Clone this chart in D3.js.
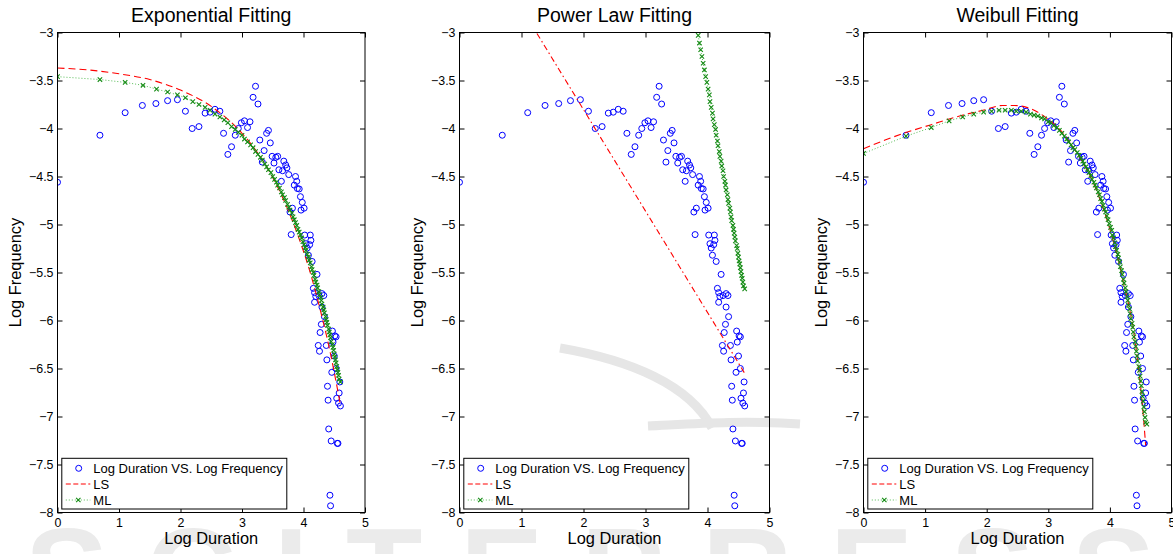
<!DOCTYPE html>
<meta charset="utf-8">
<script src="https://d3js.org/d3.v7.min.js"></script>
<style>
body{margin:0;background:#fff}
svg{font-family:"Liberation Sans",Arial,Helvetica,sans-serif}
</style>
<div id="chart"></div>
<script>

var panelTitles = ["Exponential Fitting","Power Law Fitting","Weibull Fitting"]
var legendLabels = ["Log Duration VS. Log Frequency","LS","ML"]
var xTicks = [0,1,2,3,4,5]
var xTickLabels = ["0","1","2","3","4","5"]
var yTicks = [-8,-7.5,-7,-6.5,-6,-5.5,-5,-4.5,-4,-3.5,-3]
var yTickLabels = ["−8","−7.5","−7","−6.5","−6","−5.5","−5","−4.5","−4","−3.5","−3"]

// observed points (same in all three panels)
var logDuration = [0,0.69,1.10,1.38,1.60,1.79,1.95,2.08,2.19,2.30,
	2.40,2.48,2.56,2.64,2.70,2.77,2.83,2.89,2.94,2.99,
	3.04,3.09,3.13,3.18,3.22,3.26,3.29,3.33,3.36,3.40,
	3.43,3.46,3.49,3.52,3.55,3.58,3.60,3.64,3.66,3.68,
	3.71,3.73,3.76,3.78,3.82,3.85,3.87,3.89,3.90,3.93,
	3.95,3.96,3.98,4.01,
	3.80,4.02,4.04,4.06,4.08,4.10,4.11,4.12,4.14,4.16,
	4.18,4.18,4.20,4.22,4.24,4.25,4.26,4.27,4.29,4.30,
	4.30,4.33,4.34,4.37,4.38,4.39,4.40,4.41,4.43,4.44,
	4.45,4.46,4.47,4.48,4.50,4.51,4.53,4.53,4.54,4.55,
	4.56,4.57,4.58,4.59,4.60]
var logFrequency = [-4.56,-4.07,-3.835,-3.76,-3.74,-3.71,-3.70,-3.82,-4.00,-3.98,
	-3.84,-3.83,-3.80,-3.82,-4.05,-4.27,-4.19,-4.07,-4.00,-3.94,
	-3.92,-3.99,-3.93,-3.675,-3.56,-3.745,-4.12,-4.35,-4.23,-4.05,
	-4.02,-4.15,-4.29,-4.36,-4.30,-4.29,-4.43,-4.55,-4.44,-4.34,
	-4.38,-4.41,-4.48,-4.87,-4.83,-4.59,-4.50,-4.55,-4.625,-4.63,
	-4.71,-4.85,-4.77,-4.83,
	-5.105,-5.11,-5.20,-5.245,-5.32,-5.21,-5.11,-5.165,-5.385,-5.665,
	-5.71,-5.81,-5.75,-5.52,-6.26,-5.74,-6.32,-6.125,-6.04,-5.72,
	-5.86,-5.74,-5.96,-6.26,-6.41,-6.685,-6.83,-7.13,-7.82,-7.93,
	-7.255,-6.54,-6.11,-6.225,-6.37,-6.16,-6.17,-6.50,-6.81,-7.28,
	-7.28,-6.86,-6.755,-6.64,-6.89]

// x positions of the ML markers
var fitX = [0,0.69,1.10,1.39,1.61,1.79,1.95,2.08,2.20,2.30,
	2.40,2.48,2.56,2.64,2.71,2.77,2.83,2.89,2.94,3.00,
	3.04,3.09,3.14,3.18,3.22,3.26,3.30,3.33,3.37,3.40,
	3.43,3.47,3.50,3.53,3.56,3.58,3.61,3.64,3.66,3.69,
	3.71,3.74,3.76,3.78,3.81,3.83,3.85,3.87,3.89,3.91,
	3.93,3.95,3.97,3.99,4.01,4.03,4.04,4.06,4.08,4.09,
	4.11,4.13,4.14,4.16,4.17,4.19,4.20,4.22,4.23,4.25,
	4.26,4.28,4.29,4.30,4.32,4.33,4.34,4.36,4.37,4.38,
	4.39,4.41,4.42,4.43,4.44,4.45,4.47,4.48,4.49,4.50,
	4.51,4.52,4.53,4.54,4.55,4.56,4.57,4.58,4.60]

// exponential
var expLSX = [0,0.5,1,1.5,2,2.5,3,3.25,3.5,3.75,4,4.1,4.2,4.3,4.4,4.5,4.6]
var expLS = [-3.37,-3.39,-3.43,-3.49,-3.60,-3.77,-4.05,-4.25,-4.51,-4.85,-5.28,-5.48,-5.71,-5.96,-6.23,-6.54,-6.88]
var expML = [-3.46,-3.49,-3.52,-3.55,-3.59,-3.62,-3.65,-3.68,-3.72,-3.75,
	-3.78,-3.81,-3.85,-3.88,-3.91,-3.94,-3.98,-4.01,-4.04,-4.07,
	-4.11,-4.14,-4.17,-4.20,-4.24,-4.27,-4.30,-4.33,-4.37,-4.40,
	-4.43,-4.46,-4.50,-4.53,-4.56,-4.59,-4.62,-4.66,-4.69,-4.72,
	-4.75,-4.79,-4.82,-4.85,-4.88,-4.92,-4.95,-4.98,-5.01,-5.05,
	-5.08,-5.11,-5.14,-5.18,-5.21,-5.24,-5.27,-5.31,-5.34,-5.37,
	-5.40,-5.44,-5.47,-5.50,-5.53,-5.57,-5.60,-5.63,-5.66,-5.70,
	-5.73,-5.76,-5.79,-5.83,-5.86,-5.89,-5.92,-5.96,-5.99,-6.02,
	-6.05,-6.09,-6.12,-6.15,-6.18,-6.22,-6.25,-6.28,-6.31,-6.35,
	-6.38,-6.41,-6.44,-6.48,-6.51,-6.54,-6.57,-6.61,-6.64]

// power law
var powLSX = [0,4.6]
var powLS = [-1.69,-6.55]
var powMLX = fitX.slice(46)
var powML = [-3.03,-3.11,-3.18,-3.25,-3.32,-3.39,-3.46,-3.52,-3.59,-3.65,
	-3.72,-3.78,-3.84,-3.90,-3.96,-4.01,-4.07,-4.13,-4.18,-4.24,
	-4.29,-4.34,-4.39,-4.44,-4.50,-4.55,-4.59,-4.64,-4.69,-4.74,
	-4.78,-4.83,-4.87,-4.92,-4.96,-5.01,-5.05,-5.09,-5.13,-5.17,
	-5.22,-5.25,-5.30,-5.34,-5.38,-5.41,-5.45,-5.49,-5.53,-5.56,
	-5.60,-5.64,-5.67]

// weibull
var weiLSX = [0,0.35,0.70,1.10,1.56,1.94,2.26,2.45,2.65,2.97,3.20,3.43,3.78,4.00,4.15,4.24,4.30,4.43,4.48,4.52,4.55,4.58]
var weiLS = [-4.21,-4.12,-4.04,-3.96,-3.87,-3.81,-3.76,-3.76,-3.78,-3.89,-4.02,-4.22,-4.64,-5.05,-5.40,-5.66,-5.82,-6.31,-6.58,-6.83,-7.05,-7.30]
var weiML = [-4.26,-4.08,-3.99,-3.92,-3.88,-3.85,-3.83,-3.82,-3.81,-3.81,
	-3.81,-3.82,-3.82,-3.83,-3.85,-3.86,-3.87,-3.89,-3.90,-3.93,
	-3.94,-3.97,-3.99,-4.02,-4.05,-4.08,-4.11,-4.14,-4.17,-4.20,
	-4.22,-4.25,-4.28,-4.31,-4.34,-4.37,-4.40,-4.43,-4.46,-4.49,
	-4.53,-4.56,-4.59,-4.62,-4.66,-4.69,-4.73,-4.76,-4.80,-4.84,
	-4.87,-4.91,-4.95,-4.99,-5.03,-5.06,-5.11,-5.14,-5.19,-5.23,
	-5.27,-5.31,-5.35,-5.39,-5.44,-5.48,-5.52,-5.57,-5.61,-5.66,
	-5.70,-5.75,-5.79,-5.84,-5.88,-5.93,-5.98,-6.03,-6.07,-6.12,
	-6.17,-6.22,-6.27,-6.32,-6.37,-6.42,-6.48,-6.52,-6.58,-6.63,
	-6.68,-6.74,-6.79,-6.84,-6.90,-6.95,-7.01,-7.06,-7.08]

var width = 1173
var height = 554
var plotTop = 32.5
var plotBottom = 512.5

var svg = d3.select("#chart").append("svg").attr("width",width).attr("height",height)

// faint publisher watermark behind everything
var wm = svg.append("g").attr("fill","none").attr("stroke","#e6e6e6").attr("stroke-width",9)
wm.append("path").attr("d","M560,348 C630,360 690,385 712,428")
wm.append("path").attr("d","M648,426 C690,424 740,420 800,424")
svg.append("text").text("SCITEPRESS")
	.attr("x",25).attr("y",615)
	.attr("textLength",1130).attr("lengthAdjust","spacing")
	.style("font-size","125px").style("font-weight","bold")
	.attr("fill","#ebebeb")

var panels = [
	{left:57.5, w:307.5, lsX:expLSX, ls:expLS, lsDash:"7,4", mlX:fitX, ml:expML, straight:false},
	{left:459.5, w:310, lsX:powLSX, ls:powLS, lsDash:"6,3,1.5,3", mlX:powMLX, ml:powML, straight:true},
	{left:863.5, w:308, lsX:weiLSX, ls:weiLS, lsDash:"7,4", mlX:fitX, ml:weiML, straight:false}
]

var crossPath = "M-2.2,-2.2L2.2,2.2M-2.2,2.2L2.2,-2.2"

panels.forEach(function(p,i){
	var x = d3.scaleLinear().domain([0,5]).range([p.left,p.left+p.w])
	var y = d3.scaleLinear().domain([-8,-3]).range([plotBottom,plotTop])
	var g = svg.append("g")

	g.append("clipPath").attr("id","clip"+i)
		.append("rect").attr("x",p.left).attr("y",plotTop).attr("width",p.w).attr("height",plotBottom-plotTop)

	var marks = g.append("g").attr("clip-path","url(#clip"+i+")")

	// scatter
	marks.selectAll(".pt")
		.data(logDuration)
		.join("circle")
		.attr("cx",function(d){return x(d)})
		.attr("cy",function(d,j){return y(logFrequency[j])})
		.attr("r",3)
		.attr("fill","none")
		.attr("stroke","#0000ff")
		.attr("stroke-width",1)

	// LS fit
	var lsLine = d3.line()
		.x(function(d){return x(d)})
		.y(function(d,j){return y(p.ls[j])})
		.curve(p.straight ? d3.curveLinear : d3.curveMonotoneX)
	marks.append("path")
		.attr("d",lsLine(p.lsX))
		.attr("fill","none")
		.attr("stroke","#ff0000")
		.attr("stroke-width",1.1)
		.attr("stroke-dasharray",p.lsDash)

	// ML fit
	var mlLine = d3.line()
		.x(function(d){return x(d)})
		.y(function(d,j){return y(p.ml[j])})
	marks.append("path")
		.attr("d",mlLine(p.mlX))
		.attr("fill","none")
		.attr("stroke","#55bb55")
		.attr("stroke-width",1)
		.attr("stroke-dasharray","1,2")
	marks.selectAll(".mk")
		.data(p.mlX)
		.join("path")
		.attr("d",crossPath)
		.attr("transform",function(d,j){return "translate("+x(d)+","+y(p.ml[j])+")"})
		.attr("fill","none")
		.attr("stroke","#138a13")
		.attr("stroke-width",1.1)

	// axes, ticks pointing inward on all four sides
	var ax = g.append("g")
	ax.append("g").attr("transform","translate(0,"+plotBottom+")")
		.call(d3.axisBottom(x).tickValues(xTicks).tickSize(-5).tickPadding(6)
			.tickFormat(function(d,j){return xTickLabels[j]}))
	ax.append("g").attr("transform","translate(0,"+plotTop+")")
		.call(d3.axisTop(x).tickValues(xTicks).tickSize(-5).tickFormat(""))
	ax.append("g").attr("transform","translate("+p.left+",0)")
		.call(d3.axisLeft(y).tickValues(yTicks).tickSize(-5).tickPadding(4)
			.tickFormat(function(d,j){return yTickLabels[j]}))
	ax.append("g").attr("transform","translate("+(p.left+p.w)+",0)")
		.call(d3.axisRight(y).tickValues(yTicks).tickSize(-5).tickFormat(""))
	ax.selectAll(".domain").remove()
	ax.selectAll("text").attr("fill","#000")
		.style("font-family","'Liberation Sans',Arial,sans-serif")
		.style("font-size","12.4px")
	ax.selectAll(".tick line").attr("stroke","#000")

	g.append("rect").attr("x",p.left).attr("y",plotTop).attr("width",p.w).attr("height",plotBottom-plotTop)
		.attr("fill","none").attr("stroke","#000").attr("stroke-width",1)

	// titles and labels
	g.append("text").text(panelTitles[i])
		.attr("x",p.left+p.w/2).attr("y",21.5)
		.style("text-anchor","middle").style("font-size","19.5px")
	g.append("text").text("Log Duration")
		.attr("x",p.left+p.w/2).attr("y",544)
		.style("text-anchor","middle").style("font-size","16.4px")
	g.append("text").text("Log Frequency")
		.attr("transform","translate("+(p.left-36.5)+","+((plotTop+plotBottom)/2)+") rotate(-90)")
		.style("text-anchor","middle").style("font-size","16.4px")

	// legend
	var lx = p.left+4.3
	var leg = g.append("g").style("font-size","13px")
	leg.append("rect").attr("x",lx).attr("y",458.3).attr("width",225).attr("height",50.7)
		.attr("fill","#fff").attr("stroke","#000").attr("stroke-width",1)
	leg.append("circle").attr("cx",lx+16.9).attr("cy",468.3).attr("r",3)
		.attr("fill","none").attr("stroke","#0000ff")
	leg.append("line").attr("x1",lx+4).attr("x2",lx+28.5).attr("y1",484).attr("y2",484)
		.attr("stroke","#ff0000").attr("stroke-width",1.1).attr("stroke-dasharray","5,2.5")
	leg.append("line").attr("x1",lx+4).attr("x2",lx+28.5).attr("y1",500).attr("y2",500)
		.attr("stroke","#55bb55").attr("stroke-dasharray","1,2")
	leg.append("path").attr("d",crossPath).attr("transform","translate("+(lx+16.5)+",500)")
		.attr("fill","none").attr("stroke","#138a13").attr("stroke-width",1.1)
	leg.selectAll(".lt")
		.data(legendLabels)
		.join("text")
		.text(function(d){return d})
		.attr("x",lx+31.5)
		.attr("y",function(d,j){return 472.7+j*16.2})
})

</script>
